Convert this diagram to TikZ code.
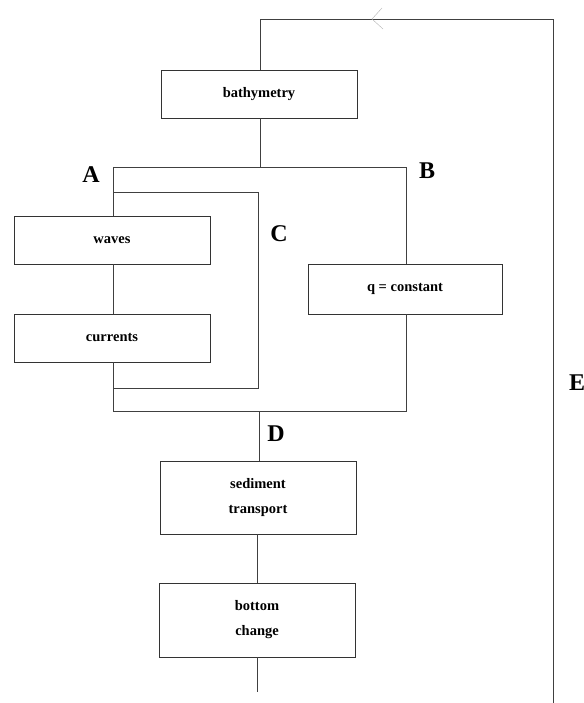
\documentclass[tikz,border=0pt]{standalone}
\usepackage{fontspec}
\setmainfont{Liberation Serif}
\tikzset{
  box/.style={draw=black!80, line width=0.6pt, fill=white, inner sep=0pt, align=center,
    font=\fontsize{14.5}{25}\selectfont\bfseries},
  ln/.style={draw=black!75, line width=0.6pt},
  lab/.style={font=\fontsize{24}{24}\selectfont\bfseries, inner sep=0pt}
}
\begin{document}
\begin{tikzpicture}[x=1pt,y=-1pt]
\useasboundingbox (0,0) rectangle (583,703);
% boxes
\node[box, minimum width=196pt, minimum height=48pt] (bath) at (259,94) {bathymetry};
\node[box, minimum width=196pt, minimum height=48pt] (waves) at (112,240) {waves};
\node[box, minimum width=196pt, minimum height=48pt] (curr) at (112,338) {currents};
\node[box, minimum width=194pt, minimum height=50pt] (q) at (405,289) {q = constant};
\node[box, minimum width=196pt, minimum height=73pt] (sed) at (258,497.5) {sediment\\transport};
\node[box, minimum width=196pt, minimum height=74pt] (bot) at (257,620) {bottom\\change};
% coordinates
\coordinate (top) at (260,19);
\coordinate (topR) at (553,19);
\coordinate (botR) at (553,703);
\coordinate (split) at (260,167);
\coordinate (aTL) at (113,167);
\coordinate (bTR) at (406,167);
\coordinate (bBR) at (406,411);
\coordinate (aBL) at (113,411);
\coordinate (merge) at (259,411);
\coordinate (cTL) at (113,192);
\coordinate (cTR) at (258,192);
\coordinate (cBR) at (258,388);
\coordinate (cBL) at (113,388);
\coordinate (end) at (257,692);
% connectors
\draw[ln] (bath.north -| top) -- (top) -- (topR) -- (botR);
\draw[ln] (bath.south -| split) -- (split);
\draw[ln] (aTL) -- (bTR) -- (q.north -| bTR);
\draw[ln] (q.south -| bBR) -- (bBR) -- (aBL);
\draw[ln] (aTL) -- (waves.north -| aTL);
\draw[ln] (waves.south -| aTL) -- (curr.north -| aTL);
\draw[ln] (curr.south -| aTL) -- (aBL);
\draw[ln] (cTL) -- (cTR) -- (cBR) -- (cBL);
\draw[ln] (merge) -- (sed.north -| merge);
\draw[ln] (sed.south -| bot) -- (bot.north);
\draw[ln] (bot.south) -- (end);
% faint arrowhead on top line
\coordinate (ah) at (372,19);
\draw[black!30, line width=0.4pt] (382,8) -- (ah) -- (383,29);
% labels
\node[lab] (A) at (91,175) {A};
\node[lab] (B) at (427,171) {B};
\node[lab] (C) at (279,234) {C};
\node[lab] (D) at (276,434) {D};
\node[lab, anchor=west] (E) at (569,383) {E};
\end{tikzpicture}
\end{document}
